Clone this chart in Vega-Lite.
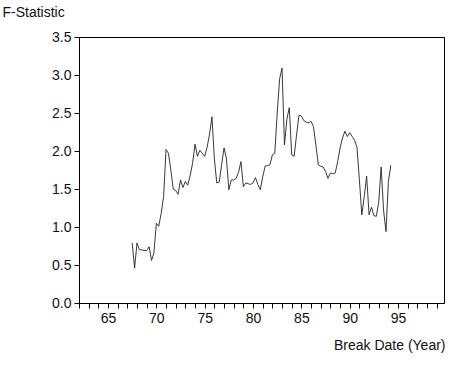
{
  "$schema": "https://vega.github.io/schema/vega-lite/v6.json",
  "width": 365,
  "height": 266,
  "autosize": {"type": "none"},
  "padding": {"left": 79, "top": 37, "right": 10, "bottom": 63},
  "background": "white",
  "config": {
    "view": {"stroke": "black", "strokeWidth": 1},
    "font": "Liberation Sans",
    "axis": {
      "grid": false,
      "domainColor": "black",
      "tickColor": "black",
      "labelColor": "#111",
      "titleColor": "#111",
      "labelFont": "Liberation Sans",
      "titleFont": "Liberation Sans",
      "labelFontSize": 14,
      "titleFontSize": 14,
      "titleFontWeight": "normal",
      "tickSize": 5
    }
  },
  "data": {
    "values": [
      {"year": 67.5, "f": 0.79}, {"year": 67.75, "f": 0.46}, {"year": 68.0, "f": 0.79}, {"year": 68.25, "f": 0.70},
      {"year": 68.5, "f": 0.70}, {"year": 68.75, "f": 0.69}, {"year": 69.0, "f": 0.69}, {"year": 69.25, "f": 0.74},
      {"year": 69.5, "f": 0.56}, {"year": 69.75, "f": 0.66}, {"year": 70.0, "f": 1.05}, {"year": 70.25, "f": 1.01},
      {"year": 70.5, "f": 1.18}, {"year": 70.75, "f": 1.40}, {"year": 71.0, "f": 2.02}, {"year": 71.25, "f": 1.97},
      {"year": 71.5, "f": 1.75}, {"year": 71.75, "f": 1.50}, {"year": 72.0, "f": 1.48}, {"year": 72.25, "f": 1.43},
      {"year": 72.5, "f": 1.62}, {"year": 72.75, "f": 1.52}, {"year": 73.0, "f": 1.60}, {"year": 73.25, "f": 1.55},
      {"year": 73.5, "f": 1.68}, {"year": 73.75, "f": 1.84}, {"year": 74.0, "f": 2.09}, {"year": 74.25, "f": 1.93},
      {"year": 74.5, "f": 2.01}, {"year": 74.75, "f": 1.97}, {"year": 75.0, "f": 1.93}, {"year": 75.25, "f": 2.05},
      {"year": 75.5, "f": 2.22}, {"year": 75.75, "f": 2.45}, {"year": 76.0, "f": 1.90}, {"year": 76.25, "f": 1.58},
      {"year": 76.5, "f": 1.59}, {"year": 76.75, "f": 1.82}, {"year": 77.0, "f": 2.04}, {"year": 77.25, "f": 1.90},
      {"year": 77.5, "f": 1.49}, {"year": 77.75, "f": 1.62}, {"year": 78.0, "f": 1.62}, {"year": 78.25, "f": 1.64},
      {"year": 78.5, "f": 1.72}, {"year": 78.75, "f": 1.86}, {"year": 79.0, "f": 1.53}, {"year": 79.25, "f": 1.58},
      {"year": 79.5, "f": 1.57}, {"year": 79.75, "f": 1.56}, {"year": 80.0, "f": 1.58}, {"year": 80.25, "f": 1.65},
      {"year": 80.5, "f": 1.56}, {"year": 80.75, "f": 1.49}, {"year": 81.0, "f": 1.66}, {"year": 81.25, "f": 1.80},
      {"year": 81.5, "f": 1.81}, {"year": 81.75, "f": 1.82}, {"year": 82.0, "f": 1.95}, {"year": 82.25, "f": 1.97},
      {"year": 82.5, "f": 2.50}, {"year": 82.75, "f": 2.95}, {"year": 83.0, "f": 3.09}, {"year": 83.25, "f": 2.08},
      {"year": 83.5, "f": 2.42}, {"year": 83.75, "f": 2.57}, {"year": 84.0, "f": 1.95}, {"year": 84.25, "f": 1.93},
      {"year": 84.5, "f": 2.21}, {"year": 84.75, "f": 2.47}, {"year": 85.0, "f": 2.46}, {"year": 85.25, "f": 2.40},
      {"year": 85.5, "f": 2.38}, {"year": 85.75, "f": 2.37}, {"year": 86.0, "f": 2.39}, {"year": 86.25, "f": 2.32},
      {"year": 86.5, "f": 2.08}, {"year": 86.75, "f": 1.82}, {"year": 87.0, "f": 1.80}, {"year": 87.25, "f": 1.79},
      {"year": 87.5, "f": 1.73}, {"year": 87.75, "f": 1.64}, {"year": 88.0, "f": 1.71}, {"year": 88.25, "f": 1.70},
      {"year": 88.5, "f": 1.71}, {"year": 88.75, "f": 1.86}, {"year": 89.0, "f": 2.04}, {"year": 89.25, "f": 2.17},
      {"year": 89.5, "f": 2.26}, {"year": 89.75, "f": 2.19}, {"year": 90.0, "f": 2.24}, {"year": 90.25, "f": 2.19},
      {"year": 90.5, "f": 2.14}, {"year": 90.75, "f": 2.05}, {"year": 91.0, "f": 1.62}, {"year": 91.25, "f": 1.16},
      {"year": 91.5, "f": 1.40}, {"year": 91.75, "f": 1.67}, {"year": 92.0, "f": 1.16}, {"year": 92.25, "f": 1.26},
      {"year": 92.5, "f": 1.15}, {"year": 92.75, "f": 1.14}, {"year": 93.0, "f": 1.33}, {"year": 93.25, "f": 1.79},
      {"year": 93.5, "f": 1.22}, {"year": 93.75, "f": 0.94}, {"year": 94.0, "f": 1.60}, {"year": 94.25, "f": 1.81}
    ]
  },
  "mark": {"type": "line", "color": "#222", "strokeWidth": 0.9},
  "encoding": {
    "x": {
      "field": "year",
      "type": "quantitative",
      "scale": {"domain": [62, 99.75], "nice": false, "zero": false},
      "axis": {
        "values": [62, 63, 64, 65, 66, 67, 68, 69, 70, 71, 72, 73, 74, 75, 76, 77, 78, 79, 80, 81, 82, 83, 84, 85, 86, 87, 88, 89, 90, 91, 92, 93, 94, 95, 96, 97, 98, 99],
        "labelExpr": "datum.value % 5 === 0 ? datum.value : ''",
        "labelPadding": 3,
        "labelFlush": false,
        "title": "Break Date (Year)",
        "titleAlign": "right",
        "titleX": 366,
        "titleY": 42,
        "titleBaseline": "middle"
      }
    },
    "y": {
      "field": "f",
      "type": "quantitative",
      "scale": {"domain": [0, 3.5], "nice": false},
      "axis": {
        "values": [0, 0.5, 1, 1.5, 2, 2.5, 3, 3.5],
        "format": ".1f",
        "labelPadding": 3,
        "title": "F-Statistic",
        "titleAngle": 0,
        "titleAlign": "left",
        "titleBaseline": "middle",
        "titleX": -77,
        "titleY": -25
      }
    }
  }
}
